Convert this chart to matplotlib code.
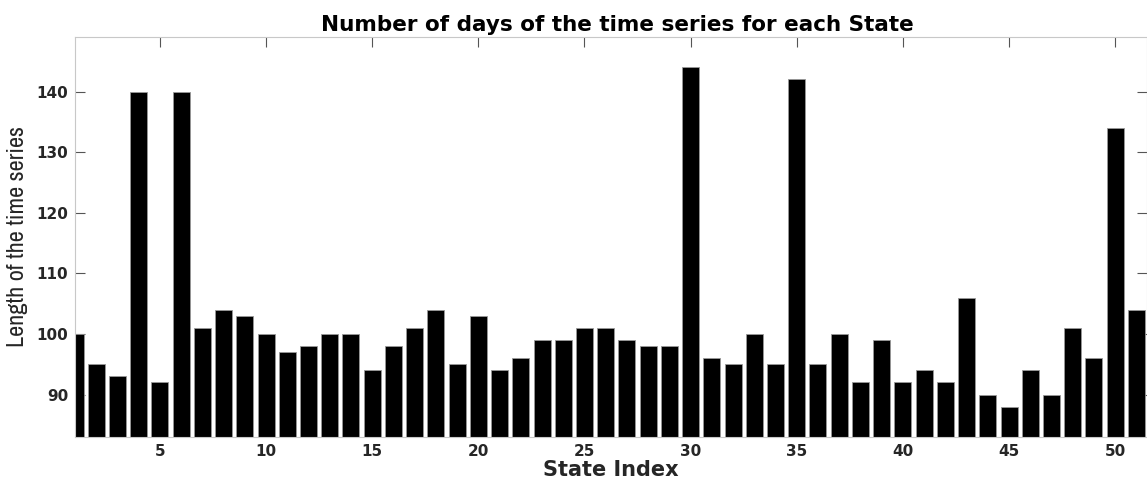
import matplotlib.pyplot as plt
import numpy as np

plt.rcParams['font.family'] = ['DejaVu Sans']

states = np.arange(1, 52)
days = [100, 95, 93, 140, 92, 140, 101, 104, 103, 100,
        97, 98, 100, 100, 94, 98, 101, 104, 95, 103,
        94, 96, 99, 99, 101, 101, 99, 98, 98, 144,
        96, 95, 100, 95, 142, 95, 100, 92, 99, 92,
        94, 92, 106, 90, 88, 94, 90, 101, 96, 134,
        104]
xticks = [5, 10, 15, 20, 25, 30, 35, 40, 45, 50]
yticks = [90, 100, 110, 120, 130, 140]

fig = plt.figure(figsize=(11.47, 4.79), dpi=100)
ax = fig.add_axes([0.0654, 0.0877, 0.9346, 0.8351])

ax.bar(states, days, width=0.8, color='black', edgecolor='#999999', linewidth=0.6)
ax.set_axisbelow(True)

ax.set_xlim(1, 51.5)
ax.set_ylim(min(days) - 5, max(days) + 5)
ax.set_xticks(xticks)
ax.set_yticks(yticks)
ax.tick_params(direction='in', top=True, right=True, length=7, width=0.8,
               color='#555555', labelcolor='#262626', labelsize=11, pad=5)
for lab in ax.get_xticklabels() + ax.get_yticklabels():
    lab.set_fontweight('bold')
for s in ax.spines.values():
    s.set_color('#c8c8c8')
    s.set_linewidth(0.8)

ax.set_xlabel('State Index', fontsize=15, fontweight='bold', color='#262626', labelpad=1)
ax.set_ylabel('Length of the time series', family=['Archivo Narrow', 'DejaVu Sans'],
              fontsize=17.5, fontweight='medium', color='#262626', labelpad=6)
ax.set_title('Number of days of the time series for each State',
             fontsize=15.5, fontweight='bold', pad=4, x=0.506)

fig.savefig('out.png', dpi=100)
